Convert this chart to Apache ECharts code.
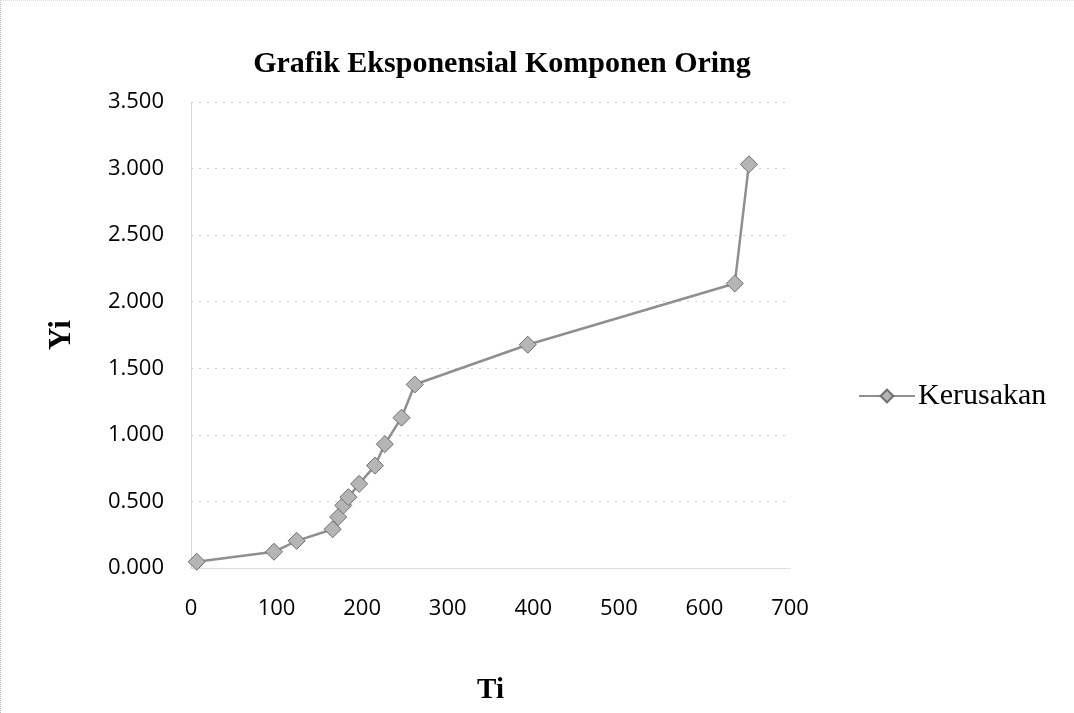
<!doctype html>
<html>
	<head>
		<meta charset="utf-8">
		<title>Grafik Eksponensial Komponen Oring</title>
		<style>
			html, body { margin: 0; padding: 0; background: #fff; }
			#main { width: 1074px; height: 713px; box-sizing: border-box; border-left: 1px dotted #bbb; border-top: 1px dotted #ddd; }
		</style>
	</head>
	<body>
		<div id="main"></div>
		<script src="https://cdn.jsdelivr.net/npm/echarts@6/dist/echarts.min.js"></script>
		<script type="text/javascript">
			// data
			var ti = [6.7, 97, 123.5, 165.5, 172, 178, 184, 196.5, 215, 226.5, 246, 261.5, 393.5, 635.5, 652];
			var yi = [0.047, 0.122, 0.204, 0.291, 0.383, 0.470, 0.532, 0.632, 0.769, 0.930, 1.129, 1.378, 1.677, 2.137, 3.032];
			var seriesName = 'Kerusakan';

			var points = [];
			for (var i = 0; i < ti.length; i++) {
				points.push([ti[i], yi[i]]);
			}

			var myChart = echarts.init(document.getElementById('main'));

			var option = {
				backgroundColor: '#fff',
				animation: false,
				title: {
					text: 'Grafik Eksponensial Komponen Oring',
					left: 496,
					textAlign: 'center',
					top: 43,
					textStyle: {
						fontFamily: 'Liberation Serif',
						fontWeight: 'bold',
						fontSize: 30,
						color: '#000'
					}
				},
				legend: {
					data: [seriesName],
					left: 852,
					top: 375,
					itemWidth: 56,
					itemHeight: 16,
					itemGap: 4,
					textStyle: {
						fontFamily: 'Liberation Serif',
						fontSize: 30,
						color: '#000',
						padding: [0, 0, 0, -2]
					}
				},
				grid: {
					left: 190,
					right: 284,
					top: 101,
					bottom: 145
				},
				xAxis: {
					type: 'value',
					min: 0,
					max: 700,
					interval: 100,
					name: 'Ti',
					nameLocation: 'middle',
					nameGap: 108,
					nameTextStyle: {
						fontFamily: 'Liberation Serif',
						fontWeight: 'bold',
						fontSize: 29,
						color: '#000'
					},
					axisLine: { show: true, lineStyle: { color: '#dcdcdc', type: 'dotted' } },
					axisTick: { show: false },
					splitLine: { show: false },
					axisLabel: {
						margin: 30,
						fontFamily: 'Open Sans',
						fontSize: 22,
						color: '#000'
					}
				},
				yAxis: {
					type: 'value',
					min: 0,
					max: 3.5,
					interval: 0.5,
					name: 'Yi',
					nameLocation: 'middle',
					nameGap: 114,
					nameRotate: 90,
					nameTextStyle: {
						fontFamily: 'Liberation Serif',
						fontWeight: 'bold',
						fontSize: 31,
						color: '#000'
					},
					axisLine: { show: true, lineStyle: { color: '#cfcfcf', type: 'dotted' } },
					axisTick: { show: false },
					splitLine: { show: true, lineStyle: { color: '#cfcfcf', type: [2, 6] } },
					axisLabel: {
						margin: 27,
						fontFamily: 'Open Sans',
						fontSize: 22,
						color: '#000',
						formatter: function(v) {
							return v.toFixed(3);
						}
					}
				},
				series: [{
					name: seriesName,
					type: 'line',
					data: points,
					symbol: 'diamond',
					symbolSize: 17,
					lineStyle: { color: '#8f8f8f', width: 2.5 },
					itemStyle: { color: '#b5b5b5', borderColor: '#6e6e6e', borderWidth: 1 }
				}]
			};

			myChart.setOption(option);
		</script>
	</body>
</html>
